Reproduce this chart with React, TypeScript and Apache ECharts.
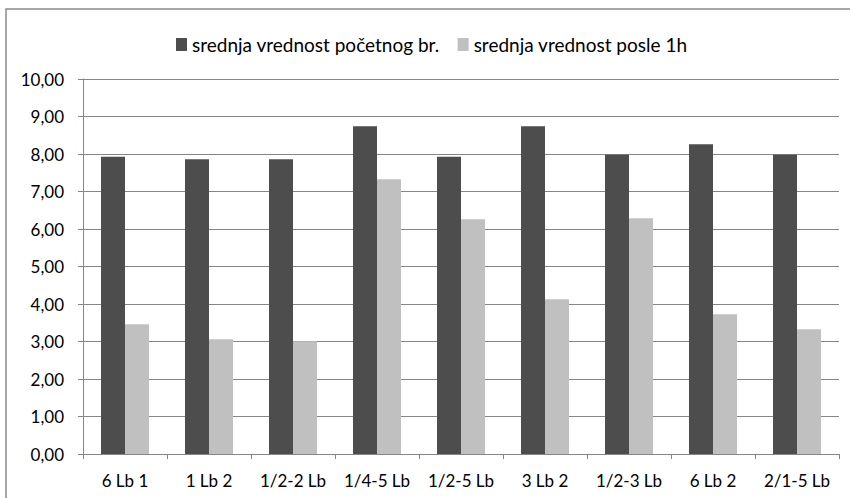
import React, { useEffect, useRef } from "react";
import * as echarts from "echarts";

const categories = ["6 Lb 1", "1 Lb 2", "1/2-2 Lb", "1/4-5 Lb", "1/2-5 Lb", "3 Lb 2", "1/2-3 Lb", "6 Lb 2", "2/1-5 Lb"];
const seriesNames = ["srednja vrednost početnog br.", "srednja vrednost posle 1h"];
const initialValues = [7.93, 7.86, 7.86, 8.74, 7.93, 8.74, 7.98, 8.26, 7.98];
const after1hValues = [3.46, 3.06, 3.01, 7.33, 6.26, 4.13, 6.29, 3.73, 3.33];
const yTicks = { min: 0, max: 10, interval: 1 };

const FONT = "Lato, 'Open Sans', sans-serif";

export default function App() {
  const ref = useRef<HTMLDivElement>(null);
  useEffect(() => {
    if (!ref.current) return;
    const chart = echarts.init(ref.current, undefined, { renderer: "svg" });
    chart.setOption({
      animation: false,
      backgroundColor: "#ffffff",
      textStyle: { fontFamily: FONT },
      graphic: [
        {
          type: "rect",
          shape: { x: 6, y: 9, width: 900, height: 600 },
          style: { fill: "none", stroke: "#8a8a8a", lineWidth: 1.5 },
          silent: true,
          z: -10,
        },
      ],
      legend: {
        left: 171,
        top: 30,
        itemWidth: 11,
        itemHeight: 13,
        itemGap: 18,
        icon: "rect",
        textStyle: { fontFamily: FONT, fontSize: 19, color: "#000" },
        data: seriesNames,
      },
      grid: { left: 83, right: 11, top: 79, bottom: 44, containLabel: false },
      xAxis: {
        type: "category",
        data: categories,
        axisLine: { show: true, lineStyle: { color: "#868686", width: 1 } },
        axisTick: { show: true, length: 5, lineStyle: { color: "#868686" } },
        axisLabel: { fontFamily: FONT, fontSize: 17, color: "#000", margin: 18, interval: 0 },
      },
      yAxis: {
        type: "value",
        min: yTicks.min,
        max: yTicks.max,
        interval: yTicks.interval,
        axisLine: { show: true, lineStyle: { color: "#868686", width: 1 } },
        axisTick: { show: true, length: 5, lineStyle: { color: "#868686" } },
        axisLabel: {
          fontFamily: FONT,
          fontSize: 17,
          color: "#000",
          margin: 19,
          formatter: (v: number) => v.toFixed(2).replace(".", ","),
        },
        splitLine: { show: true, lineStyle: { color: "#868686", width: 1 } },
      },
      series: [
        {
          name: seriesNames[0],
          type: "bar",
          data: initialValues,
          barWidth: 24,
          barGap: "0%",
          itemStyle: { color: "#4d4d4d" },
        },
        {
          name: seriesNames[1],
          type: "bar",
          data: after1hValues,
          barWidth: 24,
          barGap: "0%",
          itemStyle: { color: "#c0c0c0" },
        },
      ],
    });
    return () => chart.dispose();
  }, []);
  return (
    <div
      ref={ref}
      style={{ position: "fixed", left: 0, top: 0, width: 850, height: 498, background: "#fff" }}
    />
  );
}
